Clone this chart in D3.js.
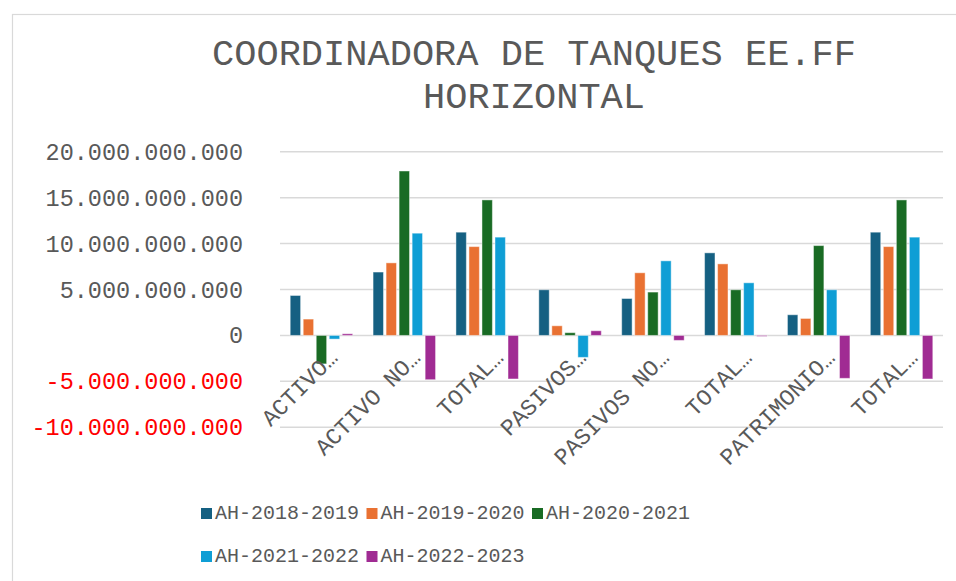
<!DOCTYPE html>
<html lang="es">
  <head>
    <meta charset="utf-8">
    <script src="https://d3js.org/d3.v7.min.js"></script>
    <title>Coordinadora de Tanques EE.FF Horizontal</title>
    <style>
      body { margin: 0; background: #fff; }
      text { font-family: "Courier New", "Liberation Mono", monospace; }
    </style>
  </head>
  <body>
    <div id="chart"></div>
  <script>

    // etiquetas del eje x tal como se ven (recortadas)
    const categories = ["ACTIVO…", "ACTIVO NO…", "TOTAL…", "PASIVOS…",
                        "PASIVOS NO…", "TOTAL…", "PATRIMONIO…", "TOTAL…"];
    const series = ["AH-2018-2019", "AH-2019-2020", "AH-2020-2021", "AH-2021-2022", "AH-2022-2023"];
    const colors = ["#156082", "#E97132", "#196B24", "#0F9ED5", "#A02B93"];

    // valores en miles de millones
    const ah2018 = [4.35, 6.9, 11.24, 4.97, 4.02, 8.99, 2.25, 11.24];
    const ah2019 = [1.78, 7.9, 9.67, 1.05, 6.82, 7.79, 1.85, 9.67];
    const ah2020 = [-3.1, 17.9, 14.75, 0.3, 4.72, 4.97, 9.78, 14.75];
    const ah2021 = [-0.4, 11.13, 10.7, -2.39, 8.12, 5.73, 4.97, 10.7];
    const ah2022 = [0.18, -4.82, -4.74, 0.51, -0.54, -0.1, -4.67, -4.74];

    const yTicks = [-10e9, -5e9, 0, 5e9, 10e9, 15e9, 20e9];

    const seriesValues = [ah2018, ah2019, ah2020, ah2021, ah2022];

    const W = 956, H = 581;
    const plot = {left: 280, right: 943, top: 151.7, bottom: 427.3};

    const svg = d3.select("#chart")
      .append("svg")
        .attr("width", W)
        .attr("height", H);

    // borde del area del grafico
    svg.append("rect")
      .attr("x", 12.5)
      .attr("y", 14.5)
      .attr("width", W + 20)
      .attr("height", H + 20)
      .attr("fill", "#fff")
      .attr("stroke", "#d9d9d9")
      .attr("stroke-width", 1.2);

    // titulo
    const title = svg.append("text")
      .attr("text-anchor", "middle")
      .style("font-size", "37px")
      .style("fill", "#595959");
    title.append("tspan").attr("x", 534).attr("y", 65).text("COORDINADORA DE TANQUES EE.FF");
    title.append("tspan").attr("x", 534).attr("y", 108).text("HORIZONTAL");

    const y = d3.scaleLinear()
      .domain([-10e9, 20e9])
      .range([plot.bottom, plot.top]);

    const x0 = d3.scaleBand()
      .domain(d3.range(categories.length))
      .range([plot.left, plot.right])
      .paddingInner(0.246)
      .paddingOuter(0.123);

    const x1 = d3.scaleBand()
      .domain(d3.range(series.length))
      .range([0, x0.bandwidth()])
      .paddingInner(0.2);

    // lineas de cuadricula
    svg.append("g")
      .selectAll("line")
      .data(yTicks)
      .join("line")
        .attr("x1", plot.left)
        .attr("x2", plot.right)
        .attr("y1", d => y(d))
        .attr("y2", d => y(d))
        .attr("stroke", "#d9d9d9")
        .attr("stroke-width", 1.5);

    // eje y
    const fmt = v => {
      const s = d3.format(",")(Math.abs(v)).replace(/,/g, ".");
      return v < 0 ? "-" + s : s;
    };
    const yAxis = svg.append("g")
      .attr("transform", `translate(${plot.left - 37},0)`)
      .call(d3.axisLeft(y).tickValues(yTicks).tickSize(0).tickPadding(0).tickFormat(fmt));
    yAxis.select(".domain").remove();
    yAxis.selectAll("text")
      .style("font-family", "\"Courier New\", \"Liberation Mono\", monospace")
      .style("font-size", "23.5px")
      .style("fill", d => d < 0 ? "#ff0000" : "#595959");

    // barras
    const groups = svg.append("g")
      .selectAll("g")
      .data(categories.map((c, i) => i))
      .join("g")
        .attr("transform", i => `translate(${x0(i)},0)`);

    groups.selectAll("rect")
      .data(i => seriesValues.map((vals, s) => ({s: s, v: vals[i] * 1e9})))
      .join("rect")
        .attr("x", d => x1(d.s))
        .attr("width", x1.bandwidth())
        .attr("y", d => y(Math.max(0, d.v)))
        .attr("height", d => Math.abs(y(d.v) - y(0)))
        .attr("fill", d => colors[d.s])
        .attr("stroke", "#fff")
        .attr("stroke-opacity", 0.45)
        .attr("stroke-width", 1);

    // etiquetas de categoria giradas
    svg.append("g")
      .selectAll("text")
      .data(categories)
      .join("text")
        .attr("transform", (d, i) => `translate(${x0(i) + x0.bandwidth() / 2 + 6},${y(0) + 12}) rotate(-45)`)
        .attr("text-anchor", "end")
        .attr("dy", "0.71em")
        .style("font-size", "23px")
        .style("fill", "#595959")
        .text(d => d);

    // leyenda
    const legend = svg.append("g");
    const item = legend.selectAll("g")
      .data(series)
      .join("g")
        .attr("transform", (d, i) => `translate(${201 + (i % 3) * 165.5},${i < 3 ? 508 : 551})`);
    item.append("rect")
      .attr("width", 11)
      .attr("height", 11)
      .attr("fill", (d, i) => colors[i]);
    item.append("text")
      .attr("x", 14)
      .attr("y", 11)
      .style("font-size", "20px")
      .style("fill", "#595959")
      .text(d => d);

  </script>
  </body>
</html>
